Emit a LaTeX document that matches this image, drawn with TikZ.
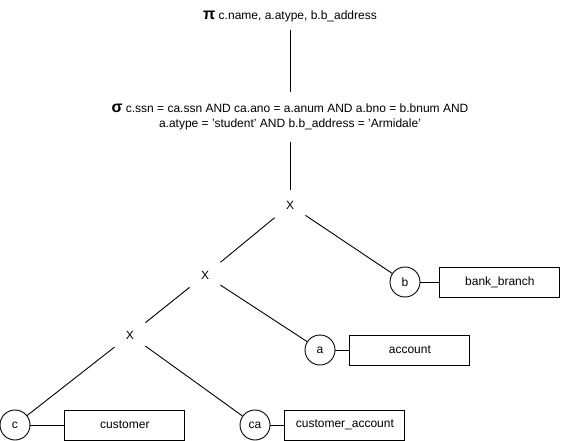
\documentclass[tikz,border=0pt]{standalone}
\usepackage{fontspec}
\setmainfont{Liberation Sans}
\usetikzlibrary{positioning}
\newcommand{\opsym}[1]{{\fontsize{16}{16}\selectfont\bfseries #1}}

\begin{document}
\begin{tikzpicture}[x=1pt,y=-1pt,line width=0.9pt,
	every node/.style={font=\fontsize{12}{15.5}\selectfont},
	cross/.style={minimum size=30pt,inner sep=0pt},
	rel/.style={draw,circle,minimum size=30pt,inner sep=0pt},
	tbl/.style={draw,minimum width=120pt,minimum height=30pt,inner sep=0pt}]
	\useasboundingbox (0,0) rectangle (562,441);
	% operators
	\node[minimum height=28pt,inner sep=0pt] at (290, 16) (proj) {\opsym{π} c.name, a.atype, b.b\_address};
	\node[align=center,minimum height=50pt,inner sep=0pt] at (290, 117) (sel) {\opsym{σ} c.ssn = ca.ssn AND ca.ano = a.anum AND a.bno = b.bnum AND\\a.atype = 'student' AND b.b\_address = 'Armidale'};
	\node[cross] at (290, 205) (x1) {X};
	\node[cross] at (205, 275) (x2) {X};
	\node[cross] at (130, 335) (x3) {X};
	% relations
	\node[rel] at (405, 282) (b) {b};
	\node[rel] at (320, 350) (a) {a};
	\node[rel] at (15, 425) (c) {c};
	\node[rel] at (255, 425) (ca) {ca};
	\node[tbl, right=19pt of b] (bank) {bank\_branch};
	\node[tbl, right=14pt of a] (account) {account};
	\node[tbl, right=34pt of c] (customer) {customer};
	\node[tbl, right=14pt of ca] (custacc) {customer\_account};
	% edges
	\draw (proj) -- (sel);
	\draw (sel) -- (x1);
	\draw (x1) -- (x2);
	\draw (x1) -- (b);
	\draw (x2) -- (x3);
	\draw (x2) -- (a);
	\draw (x3) -- (c);
	\draw (x3) -- (ca);
	\draw (b) -- (bank);
	\draw (a) -- (account);
	\draw (c) -- (customer);
	\draw (ca) -- (custacc);
\end{tikzpicture}
\end{document}
